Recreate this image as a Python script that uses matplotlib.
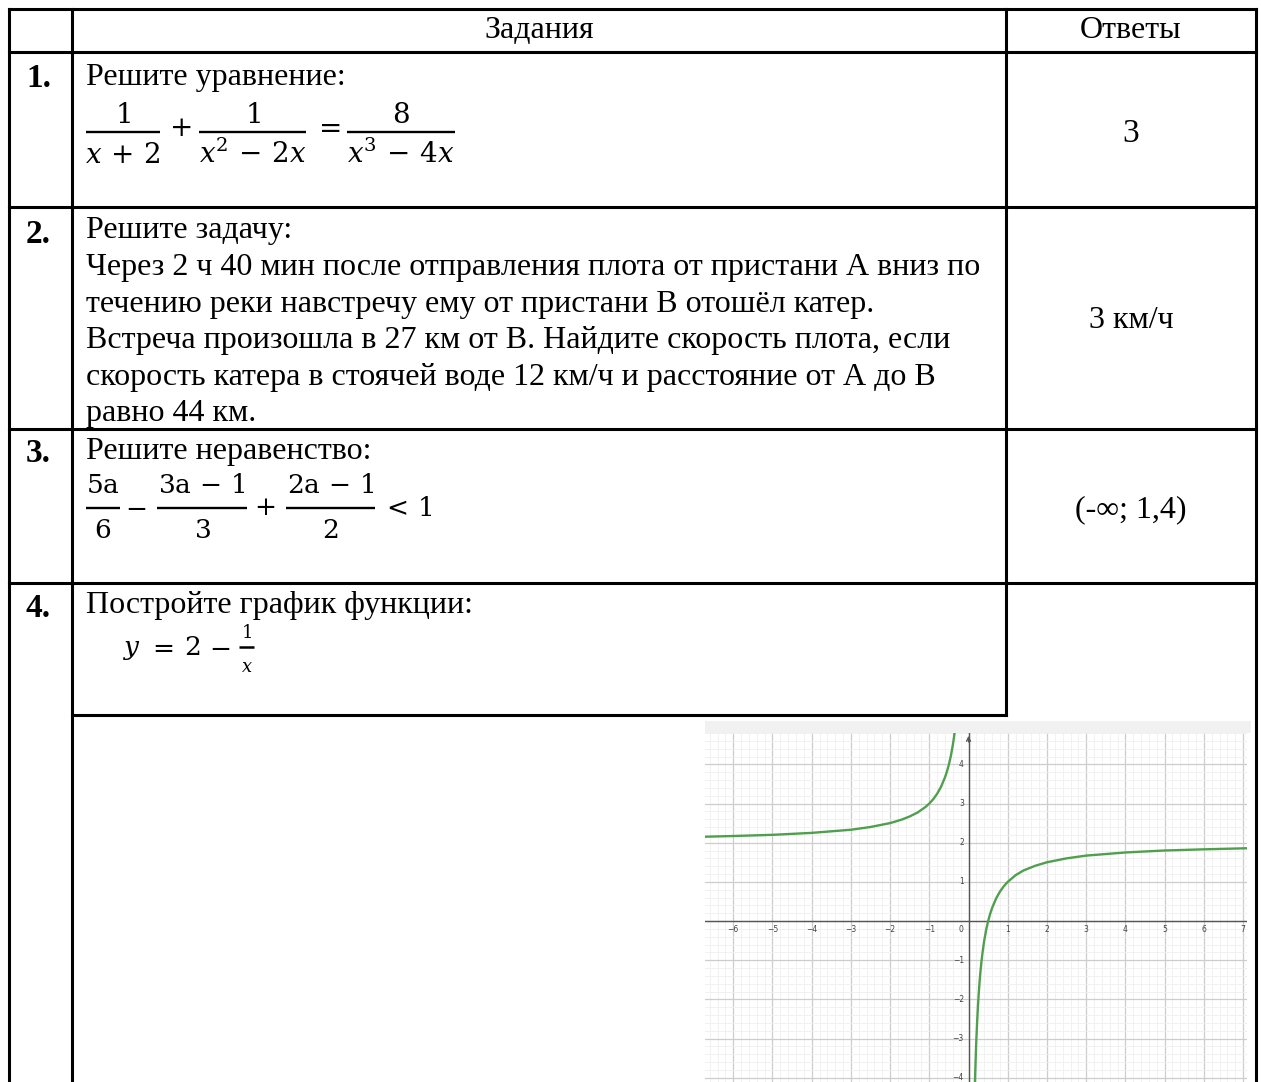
import matplotlib
matplotlib.use('Agg')
import matplotlib.pyplot as plt
from matplotlib.ticker import MultipleLocator
from matplotlib.patches import Rectangle

plt.rcParams['font.family'] = ['Liberation Serif', 'DejaVu Serif']
plt.rcParams['mathtext.fontset'] = 'dejavuserif'

# table text
header = ["Задания", "Ответы"]
row_numbers = ["1.", "2.", "3.", "4."]
row_titles = ["Решите уравнение:", "Решите задачу:", "Решите неравенство:", "Постройте график функции:"]
task2_lines = [
    "Через 2 ч 40 мин после отправления плота от пристани А вниз по",
    "течению реки навстречу ему от пристани В отошёл катер.",
    "Встреча произошла в 27 км от В. Найдите скорость плота, если",
    "скорость катера в стоячей воде 12 км/ч и расстояние от А до В",
    "равно 44 км.",
]
eq1_num = [r"$1$", r"$1$", r"$8$"]
eq1_den = [r"$x\,+\,2$", r"$x^2\,-\,2x$", r"$x^3\,-\,4x$"]
eq1_ops = [r"$+$", r"$=$"]
eq3_num = [r"$5\mathrm{a}$", r"$3\mathrm{a}\,-\,1$", r"$2\mathrm{a}\,-\,1$"]
eq3_den = [r"$6$", r"$3$", r"$2$"]
eq3_ops = [r"$-$", r"$+$", r"$<\,1$"]
eq4_parts = [r"$y$", r"$=$", r"$2$", r"$-$"]
eq4_frac = (r"$1$", r"$x$")
answers = ["3", "3 км/ч", "(-∞; 1,4)"]

# graph of the function
left_x = [-6.8, -6.0, -5.0, -4.0, -3.0, -2.5, -2.0, -1.7, -1.5, -1.3, -1.1, -1.0,
          -0.9, -0.8, -0.7, -0.6, -0.55, -0.5, -0.45, -0.4, -0.37, -0.34]
left_y = [2.15, 2.17, 2.2, 2.25, 2.33, 2.4, 2.5, 2.59, 2.67, 2.77, 2.91, 3.0,
          3.11, 3.25, 3.43, 3.67, 3.82, 4.0, 4.22, 4.5, 4.70, 4.94]
right_x = [0.16, 0.17, 0.18, 0.19, 0.2, 0.22, 0.24, 0.26, 0.28, 0.3, 0.33, 0.36,
           0.4, 0.45, 0.5, 0.55, 0.6, 0.7, 0.8, 0.9, 1.0, 1.2, 1.4, 1.7, 2.0,
           2.5, 3.0, 3.5, 4.0, 5.0, 6.0, 7.2]
right_y = [-4.25, -3.88, -3.56, -3.26, -3.0, -2.55, -2.17, -1.85, -1.57, -1.33, -1.03, -0.78,
           -0.5, -0.22, 0.0, 0.18, 0.33, 0.57, 0.75, 0.89, 1.0, 1.17, 1.29, 1.41, 1.5,
           1.6, 1.67, 1.71, 1.75, 1.8, 1.83, 1.86]
x_ticks = [-6, -5, -4, -3, -2, -1, 1, 2, 3, 4, 5, 6, 7]
y_ticks = [-4, -3, -2, -1, 1, 2, 3, 4]

W, H = 1261, 1082
fig = plt.figure(figsize=(W / 100, H / 100), dpi=100)
doc = fig.add_axes([0, 0, 1, 1])
doc.set_xlim(0, W)
doc.set_ylim(H, 0)
doc.axis('off')

lw = 2.2
# grid of the table (pixel layout)
vlines = [(9, 9, H), (72, 9, H), (1006, 9, 715), (1256, 9, H)]
hlines = [(9, 9, 1256), (52, 9, 1256), (207, 9, 1256), (429, 9, 1256), (583, 9, 1256), (715, 72, 1006)]
for x, y0, y1 in vlines:
    doc.plot([x, x], [y0, y1], color='black', lw=lw, solid_capstyle='projecting')
for y, x0, x1 in hlines:
    doc.plot([x0, x1], [y, y], color='black', lw=lw, solid_capstyle='projecting')

doc.text(539, 38, header[0], fontsize=23, ha='center', va='baseline')
doc.text(1131, 38, header[1], fontsize=23, ha='center', va='baseline')

num_base = [87, 243, 462, 617]
for s, yb in zip(row_numbers, num_base):
    doc.text(26, yb, s, fontsize=24, fontweight='bold', ha='left', va='baseline')

title_base = [85, 238, 459, 613]
for s, yb in zip(row_titles, title_base):
    doc.text(86, yb, s, fontsize=23, ha='left', va='baseline')

for i, s in enumerate(task2_lines):
    doc.text(86, 275 + 36.6 * i, s, fontsize=23, ha='left', va='baseline')


def frac(x0, x1, ybar, num, den, size, nb, db, bar_lw=1.7):
    doc.plot([x0, x1], [ybar, ybar], color='black', lw=bar_lw, solid_capstyle='butt')
    xc = (x0 + x1) / 2
    doc.text(xc, ybar - nb, num, fontsize=size, ha='center', va='baseline')
    doc.text(xc, ybar + db, den, fontsize=size, ha='center', va='baseline')


# task 1 equation
for (x0, x1), n, d in zip([(86, 160), (199, 306), (347, 455)], eq1_num, eq1_den):
    frac(x0, x1, 132, n, d, 20, 9, 31)
for xc, s in zip([180, 327], eq1_ops):
    doc.text(xc, 129, s, fontsize=20, ha='center', va='center')

# task 3 inequality
for (x0, x1), n, d in zip([(86, 120), (157, 247), (286, 375)], eq3_num, eq3_den):
    frac(x0, x1, 508, n, d, 19, 15, 30)
for xc, s in zip([136, 265, 407], eq3_ops):
    doc.text(xc, 509, s, fontsize=19, ha='center', va='center')

# task 4 function
for xc, s in zip([132, 160, 192.5, 219.5], eq4_parts):
    doc.text(xc, 655, s, fontsize=19, ha='center', va='baseline')
frac(239, 254, 647, eq4_frac[0], eq4_frac[1], 13, 9, 25, bar_lw=1.8)

doc.text(1131, 142, answers[0], fontsize=24, ha='center', va='baseline')
doc.text(1131, 328, answers[1], fontsize=23, ha='center', va='baseline')
doc.text(1131, 517, answers[2], fontsize=23, ha='center', va='baseline')

# screenshot of the graph
doc.add_patch(Rectangle((705, 721), 546, 12, color='#f1f1f1', lw=0))
g = fig.add_axes([705 / W, 0, (1247 - 705) / W, (H - 733) / H])
g.set_xlim(-6.72, 7.10)
g.set_ylim(-4.11, 4.80)
g.xaxis.set_major_locator(MultipleLocator(1))
g.yaxis.set_major_locator(MultipleLocator(1))
g.xaxis.set_minor_locator(MultipleLocator(0.2))
g.yaxis.set_minor_locator(MultipleLocator(0.2))
g.grid(which='minor', color='#efefef', lw=0.6)
g.grid(which='major', color='#cdcdcd', lw=0.9)
g.tick_params(which='both', length=0, labelbottom=False, labelleft=False)
for sp in g.spines.values():
    sp.set_visible(False)
g.axhline(0, color='#555555', lw=1.0)
g.axvline(0, color='#555555', lw=1.0)
g.annotate('', xy=(0, 4.80), xytext=(0, 4.5),
           arrowprops=dict(arrowstyle='->', color='#555555', lw=1.0, mutation_scale=7))

g.plot(left_x, left_y, color='#4f9f4f', lw=1.7)
g.plot(right_x, right_y, color='#4f9f4f', lw=1.7)

tick_font = dict(fontsize=5.5, color='#444444', family='DejaVu Sans')
for t in x_ticks:
    g.text(t, -0.22, str(t).replace('-', '\u2212'), ha='center', va='center', **tick_font)
for t in y_ticks:
    g.text(-0.12, t, str(t).replace('-', '\u2212'), ha='right', va='center', **tick_font)
g.text(-0.12, -0.22, '0', ha='right', va='center', **tick_font)

fig.savefig('out.png', dpi=100)
